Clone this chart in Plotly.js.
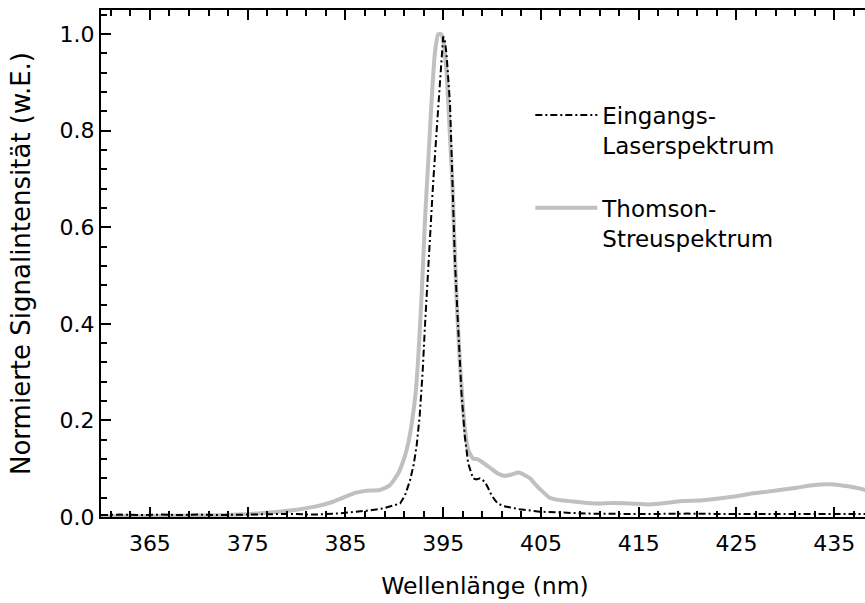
<!DOCTYPE html>
<html>
<head>
<meta charset="utf-8">
<script src="https://cdn.plot.ly/plotly-3.0.1.min.js"></script>
<style>
html, body { margin:0; padding:0; overflow:hidden; background:#fff; }
#chart { width:872px; height:603px; }
</style>
</head>
<body>
<div id="chart"></div>
<script>
// Eingangs-Laserspektrum (dash-dot, black)
var laserX = [360, 362, 364, 366, 368, 370, 372, 374, 376, 378, 380, 382, 384, 386, 387.2, 388.9, 389.8, 390.6, 391.1, 391.6, 392.0, 392.3, 392.6, 392.9, 393.15, 393.47, 393.7, 393.97, 394.3, 394.72, 395.0, 395.15, 395.34, 395.7, 395.85, 396.0, 396.2, 396.53, 396.88, 397.22, 397.56, 398.06, 398.4, 398.76, 399.27, 399.6, 399.95, 400.3, 400.6, 401.1, 402.8, 404.9, 406.9, 410, 415, 420, 425, 430, 435, 438.6];
var laserY = [0.004, 0.005, 0.004, 0.005, 0.004, 0.005, 0.004, 0.005, 0.005, 0.006, 0.006, 0.005, 0.007, 0.010, 0.013, 0.018, 0.024, 0.028, 0.045, 0.075, 0.110, 0.150, 0.210, 0.300, 0.400, 0.520, 0.600, 0.690, 0.790, 0.925, 0.995, 0.990, 0.960, 0.856, 0.753, 0.649, 0.532, 0.394, 0.256, 0.166, 0.111, 0.080, 0.078, 0.080, 0.073, 0.060, 0.045, 0.035, 0.028, 0.023, 0.016, 0.011, 0.009, 0.007, 0.006, 0.007, 0.006, 0.006, 0.006, 0.006];

// Thomson-Streuspektrum (solid, grey)
var thomsonX = [360, 365, 370, 374, 377, 380, 382, 383.5, 385, 386, 387, 388.5, 389.5, 390.4, 390.9, 391.26, 391.6, 391.93, 392.2, 392.45, 392.8, 393.13, 393.47, 393.8, 394.15, 394.5, 394.8, 395.0, 395.34, 395.7, 395.96, 396.13, 396.4, 396.7, 397.2, 397.56, 398.06, 398.5, 398.9, 399.8, 400.6, 401.3, 402.0, 402.7, 403.4, 403.9, 404.5, 405.2, 405.9, 406.6, 408.3, 409.3, 410.7, 412.4, 414.1, 416.1, 418.2, 419.5, 421, 423, 425, 426.4, 428, 429.8, 431, 432.5, 434.6, 436.6, 438.6];
var thomsonY = [0.001, 0.002, 0.003, 0.005, 0.009, 0.015, 0.022, 0.030, 0.042, 0.050, 0.054, 0.056, 0.065, 0.090, 0.115, 0.139, 0.170, 0.215, 0.260, 0.330, 0.460, 0.610, 0.735, 0.856, 0.960, 1.000, 1.000, 0.987, 0.925, 0.787, 0.684, 0.580, 0.440, 0.325, 0.187, 0.139, 0.121, 0.120, 0.115, 0.102, 0.090, 0.085, 0.088, 0.092, 0.086, 0.080, 0.066, 0.052, 0.040, 0.036, 0.032, 0.030, 0.028, 0.029, 0.028, 0.026, 0.030, 0.033, 0.034, 0.038, 0.043, 0.048, 0.052, 0.057, 0.060, 0.065, 0.068, 0.063, 0.054];

var seriesNames = ['Eingangs-<br>Laserspektrum<br> ', 'Thomson-<br>Streuspektrum'];
var xTickVals = [365, 375, 385, 395, 405, 415, 425, 435];
var yTickVals = [0.0, 0.2, 0.4, 0.6, 0.8, 1.0];

var FONT = 'DejaVu Sans, Verdana, sans-serif';

var traces = [
  { x: thomsonX, y: thomsonY, name: seriesNames[1], type: 'scatter', mode: 'lines',
    legendrank: 2,
    line: { color: '#c0c0c0', width: 4, shape: 'spline', smoothing: 0.5 } },
  { x: laserX, y: laserY, name: seriesNames[0], type: 'scatter', mode: 'lines',
    legendrank: 1,
    line: { color: '#000000', width: 2, dash: '7px,3px,2px,3px' } }
];

var axisBase = {
  showline: true, linecolor: '#000', linewidth: 2,
  ticks: 'inside', tickcolor: '#000', tickwidth: 2, ticklen: 10,
  showgrid: false, zeroline: false,
  tickfont: { family: FONT, size: 22, color: '#000' }
};

var layout = {
  width: 872, height: 603,
  margin: { l: 101, r: 3, t: 10, b: 86 },
  paper_bgcolor: '#fff', plot_bgcolor: '#fff',
  showlegend: true,
  legend: {
    x: 0.559, y: 0.835, xanchor: 'left', yanchor: 'top',
    bgcolor: 'rgba(0,0,0,0)', borderwidth: 0, traceorder: 'normal',
    font: { family: FONT, size: 23, color: '#000' },
    itemwidth: 62, valign: 'top'
  },
  xaxis: Object.assign({}, axisBase, {
    range: [360, 438.56], mirror: 'allticks',
    tickmode: 'array', tickvals: xTickVals, ticktext: xTickVals.map(String),
    ticklabelstandoff: 6,
    minor: { dtick: 2, tick0: 361, ticks: 'inside', ticklen: 6, tickwidth: 2, tickcolor: '#000' },
    title: { text: 'Wellenlänge (nm)', font: { family: FONT, size: 23.5, color: '#000' }, standoff: 22 }
  }),
  yaxis: Object.assign({}, axisBase, {
    range: [0, 1.05], mirror: false,
    tickmode: 'array', tickvals: yTickVals, ticktext: yTickVals.map(function(v){return v.toFixed(1);}),
    minor: { dtick: 0.04, tick0: 0, ticks: 'inside', ticklen: 6, tickwidth: 2, tickcolor: '#000' },
    title: { text: 'Normierte Signalintensität (w.E.)', font: { family: FONT, size: 26, color: '#000' }, standoff: 21 }
  }),
  yaxis2: Object.assign({}, axisBase, {
    range: [0, 1.05], overlaying: 'y', side: 'right', anchor: 'x', matches: 'y',
    tickmode: 'array', tickvals: yTickVals, showticklabels: false, mirror: false
  })
};

Plotly.newPlot('chart', traces, layout, { staticPlot: true, displayModeBar: false });
</script>
</body>
</html>
